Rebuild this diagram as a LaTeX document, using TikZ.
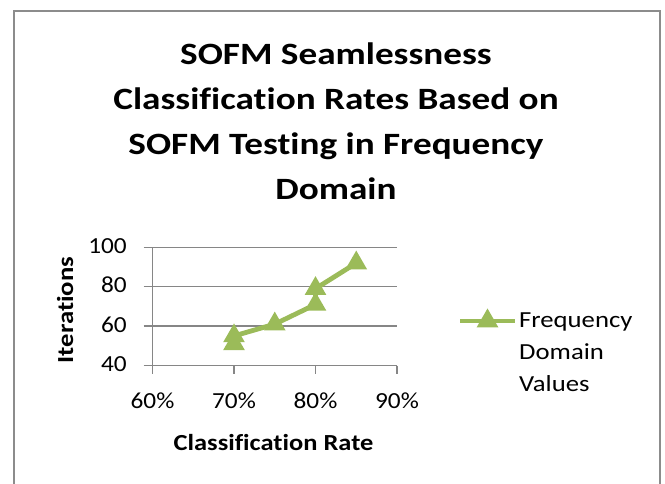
\documentclass[tikz,border=0pt]{standalone}
\usepackage{fontspec}
\setmainfont{Carlito}[Ligatures=NoCommon]
\usetikzlibrary{shapes.geometric}
\definecolor{seriesgreen}{HTML}{9BBB59}
\definecolor{framegray}{HTML}{8C8C8C}
\definecolor{gridgray}{HTML}{868686}

\tikzset{
  charttitle/.style={font=\bfseries\fontsize{31}{45}\selectfont, align=center,
    inner sep=0pt, xscale=1.2},
  axistitle/.style={font=\bfseries\fontsize{23}{23}\selectfont, inner sep=0pt},
  ticklabel/.style={font=\fontsize{23}{23}\selectfont, inner sep=0pt, xscale=1.1},
  gridline/.style={gridgray, line width=1.3pt},
  seriesline/.style={seriesgreen, line width=4.8pt, line join=round},
  trimark/.style={regular polygon, regular polygon sides=3, fill=seriesgreen,
    inner sep=0pt, minimum size=25pt}
}

\begin{document}
\begin{tikzpicture}[x=1pt, y=-1pt]
\useasboundingbox (0,0) rectangle (665,484);
% frame of the chart area
\draw[framegray, line width=2pt] (14,484) |- (660,11) -- (660,484);

\node[charttitle, anchor=north] (title) at (336,43)
  {SOFM Seamlessness\\Classification Rates Based on\\SOFM Testing in Frequency\\Domain};

% plot area: 60%..90% by 40..100
\begin{scope}[shift={(152.5,365.5)}, x=8.15pt, y=1.97pt]
  \foreach \v in {60,80,100}
    \draw[gridline] ([xshift=-9pt]0,\v-40) -- (30,\v-40);
  \draw[gridline] ([xshift=-9pt]0,0) -- (30,0);
  \draw[gridline] (0,0) -- (0,60);
  \foreach \p in {60,70,80,90}{
    \draw[gridline] (\p-60,0) -- ++(0pt,-8pt);
    \node[ticklabel, anchor=base] (xl\p) at ([yshift=-42.5pt]\p-60,0) {\p\%};
  }
  \foreach \v in {40,60,80,100}
    \node[ticklabel, anchor=base east] (yl\v) at ([xshift=-25.5pt, yshift=-6pt]0,\v-40) {\v};
  \foreach \p/\v [count=\i] in {70/51,70/55,75/61,80/71,80/79,85/92}
    \coordinate (d\i) at (\p-60,\v-40);
\end{scope}

\draw[seriesline] (d1) -- (d2) -- (d3) -- (d4) -- (d5) -- (d6);
\foreach \i in {1,...,6}
  \node[trimark] (m\i) at (d\i) {};

\node[axistitle, anchor=base, xscale=1.15] (xtitle) at (273.5,450) {Classification Rate};
\node[axistitle, rotate=90, xscale=1.16, anchor=base] (ytitle) at (73,310) {Iterations};

% legend
\coordinate (legA) at (460,321);
\coordinate (legB) at (515,321);
\draw[seriesline] (legA) -- (legB);
\node[trimark] (legmark) at (487.5,321) {};
\node[font=\fontsize{23}{32}\selectfont, align=left, inner sep=0pt, anchor=north west,
  xscale=1.16] (legtext) at (519,313) {Frequency\\Domain\\Values};
\end{tikzpicture}
\end{document}
